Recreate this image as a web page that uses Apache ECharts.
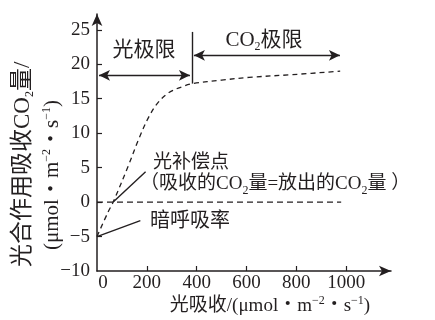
<!DOCTYPE html>
<html><head><meta charset="utf-8">
<script src="https://cdn.jsdelivr.net/npm/echarts@6/dist/echarts.min.js"></script>
<style>html,body{margin:0;padding:0;background:#fff}#c{width:435px;height:320px}</style>
</head><body><div id="c"></div>
<script>
// light absorption (x) and net CO2 uptake (y)
const curveX = [0, 45, 65, 126, 167, 207, 244, 289, 346, 386, 500, 610, 785, 976];
const curveY = [-5, -1.4, 0, 5.3, 9.1, 12.3, 14.4, 15.9, 16.8, 17.2, 17.7, 18.1, 18.5, 19];
const xTickLabels = [0, 200, 400, 600, 800, 1000];
const xTickMarks = [200, 400, 600, 800, 1000];
const yTickLabels = [-10, -5, 0, 5, 10, 15, 20, 25];
const yTickMarks = [-5, 0, 5, 10, 15, 20, 25];
// annotation anchors (data space)
const zeroLineEnd = 980;
const limitX = 381;
const limitTop = 24.7;
const limitBottom = 17.2;
const lightArrowY = 18.4;
const co2ArrowY = 21.3;
const co2ArrowEnd = 975;
const compPoint = [65, 0];
const compLabelEnd = [195, 4.4];
const darkPoint = [0, -5];
const darkLabelEnd = [174, -2.7];

const INK = '#231f20';
const SERIF = "'Liberation Serif','Noto Sans CJK SC',serif";
const sub = {fontSize: 12, verticalAlign: 'bottom', lineHeight: 26, fontFamily: SERIF};
const sup = {fontSize: 12, verticalAlign: 'top', lineHeight: 22, fontFamily: SERIF};

const chart = echarts.init(document.getElementById('c'), null, {renderer: 'canvas'});
const pair = (a, b, sym) => [{coord: a, symbol: sym}, {coord: b, symbol: sym}];

chart.setOption({
  animation: false,
  grid: {left: 97, right: 44, top: 14, bottom: 49, containLabel: false},
  xAxis: {
    type: 'value', min: 0, max: 1180, interval: 200,
    axisLine: {show: true, onZero: false, symbol: ['none', 'arrow'], symbolSize: [8, 12],
      lineStyle: {color: INK, width: 1.5}},
    axisTick: {show: true, inside: true, length: 5, customValues: xTickMarks, lineStyle: {color: INK, width: 1.2}},
    axisLabel: {customValues: xTickLabels, fontSize: 19, fontFamily: SERIF, color: INK, margin: 3,
      formatter: v => v === 0 ? '{z|0}' : String(v), rich: {z: {fontSize: 19, fontFamily: SERIF, color: INK, padding: [0, 0, 0, 12]}}},
    splitLine: {show: false}
  },
  yAxis: {
    type: 'value', min: -10, max: 27.3, interval: 5,
    axisLine: {show: true, onZero: false, symbol: ['none', 'arrow'], symbolSize: [8, 12],
      lineStyle: {color: INK, width: 1.5}},
    axisTick: {show: true, inside: true, length: 5, customValues: yTickMarks, lineStyle: {color: INK, width: 1.2}},
    axisLabel: {customValues: yTickLabels, fontSize: 19, fontFamily: SERIF, color: INK, margin: 7,
      formatter: v => v < 0 ? '\u2212' + Math.abs(v) : String(v)},
    splitLine: {show: false}
  },
  series: [
    {
      type: 'line', smooth: 0.35, showSymbol: false, silent: true,
      data: curveX.map((x, i) => [x, curveY[i]]),
      lineStyle: {color: INK, width: 1.3, type: [5, 4]}
    },
    {
      type: 'line', showSymbol: false, silent: true,
      data: [[0, 0], [zeroLineEnd, 0]],
      lineStyle: {color: INK, width: 1.3, type: [6, 4]},
      markLine: {
        silent: true, animation: false,
        label: {show: false},
        lineStyle: {color: INK, width: 1.4, type: 'solid'},
        symbolSize: [8, 11],
        data: [
          pair([limitX, limitBottom], [limitX, limitTop], 'none'),
          pair([8, lightArrowY], [limitX - 8, lightArrowY], 'arrow'),
          pair([limitX + 8, co2ArrowY], [co2ArrowEnd, co2ArrowY], 'arrow'),
          pair(compPoint, compLabelEnd, 'none'),
          pair(darkPoint, darkLabelEnd, 'none')
        ]
      }
    }
  ],
  graphic: [
    {type: 'text', x: 144, y: 48, style: {text: '光极限', font: "21px 'Noto Sans CJK SC'", fill: INK, align: 'center', verticalAlign: 'middle'}},
    {type: 'text', x: 264, y: 40, style: {text: 'CO{s|2}极限', fontSize: 21, fontFamily: SERIF, fill: INK, align: 'center', verticalAlign: 'middle', rich: {s: sub}}},
    {type: 'text', x: 153, y: 161, style: {text: '光补偿点', font: "19px 'Noto Sans CJK SC'", fill: INK, align: 'left', verticalAlign: 'middle'}},
    {type: 'text', x: 140, y: 184, style: {text: '（吸收的CO{s|2}量=放出的CO{s|2}量 ）', fontSize: 19, fontFamily: SERIF, fill: INK, align: 'left', verticalAlign: 'middle', rich: {s: sub}}},
    {type: 'text', x: 150, y: 219, style: {text: '暗呼吸率', font: "20px 'Noto Sans CJK SC'", fill: INK, align: 'left', verticalAlign: 'middle'}},
    {type: 'text', x: 270, y: 306, style: {text: '光吸收/(μmol・m{p|−2}・s{p|−1})', fontSize: 19, fontFamily: SERIF, fill: INK, align: 'center', verticalAlign: 'middle', rich: {p: sup}}},
    {type: 'text', x: 23, y: 267, rotation: Math.PI / 2, style: {text: '光合作用吸收CO{s|2}量/', fontSize: 23, fontFamily: SERIF, fill: INK, align: 'left', verticalAlign: 'middle', rich: {s: sub}}},
    {type: 'text', x: 52, y: 250, rotation: Math.PI / 2, style: {text: '(μmol・m{p|−2}・s{p|−1})', fontSize: 21, fontFamily: SERIF, fill: INK, align: 'left', verticalAlign: 'middle', rich: {p: sup}}}
  ]
});
</script>
</body></html>
